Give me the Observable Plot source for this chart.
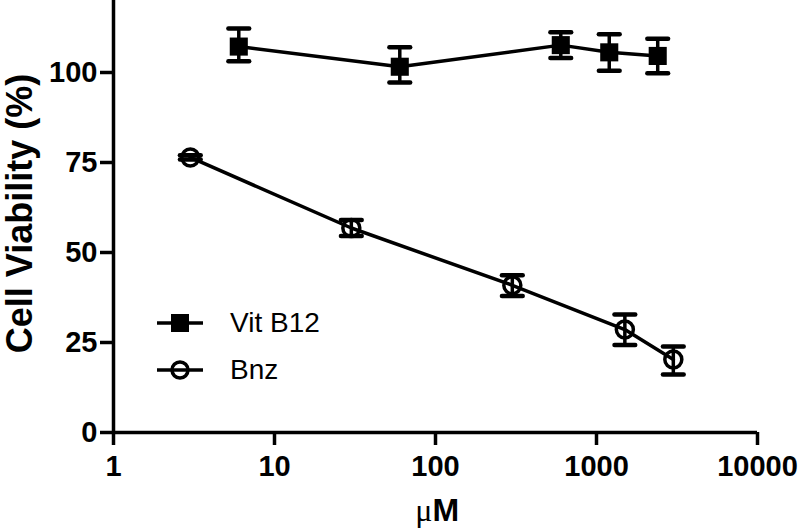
<!DOCTYPE html>
<html><head><meta charset="utf-8">
<script src="https://cdn.jsdelivr.net/npm/d3@7"></script>
<script src="https://cdn.jsdelivr.net/npm/@observablehq/plot@0.6"></script>
<style>
body{margin:0;background:#fff;}
#wrap{position:relative;width:800px;height:528px;overflow:hidden;}
#legend{position:absolute;left:157px;top:308px;font-family:"Liberation Sans",Arial,sans-serif;font-size:28px;color:#000;}
.lrow{display:flex;align-items:center;height:30px;line-height:30px;margin-bottom:17px;}
.lrow svg{margin-right:27px;}
</style></head><body><div id="wrap"></div>
<script>
// ---- data ----
const seriesNames = ["Vit B12", "Bnz"];
const vitConc = [6, 60, 600, 1200, 2400];
const vitMean = [107.2, 101.6, 107.6, 105.6, 104.6];
const vitLow  = [103.1, 97.2, 104.0, 100.5, 99.8];
const vitHigh = [112.2, 107.0, 111.2, 110.6, 109.4];
const bnzConc = [3, 30, 300, 1500, 3000];
const bnzMean = [76.4, 56.8, 40.9, 28.6, 20.3];
const bnzLow  = [75.8, 54.6, 37.9, 24.3, 16.1];
const bnzHigh = [77.0, 59.0, 43.7, 32.8, 23.9];
const xTicks = [1, 10, 100, 1000, 10000];
const yTicks = [0, 25, 50, 75, 100];
const xLabelMu = "μ";
const xLabelM = "M";
const yLabel = "Cell Viability (%)";

const vitRows = vitConc.map((c, i) => ({series: seriesNames[0], conc: c, mean: vitMean[i], low: vitLow[i], high: vitHigh[i]}));
const bnzRows = bnzConc.map((c, i) => ({series: seriesNames[1], conc: c, mean: bnzMean[i], low: bnzLow[i], high: bnzHigh[i]}));
const rows = vitRows.concat(bnzRows);
const capK = 1.16; // cap half-width as a multiplicative factor on the log axis
const font = '"Liberation Sans", Arial, Helvetica, sans-serif';
const lw = 3.5;

const chart = Plot.plot({
  width: 800, height: 528,
  marginLeft: 113, marginRight: 43, marginTop: 0, marginBottom: 96,
  style: {fontFamily: font, background: "white", color: "black", overflow: "visible"},
  x: {type: "log", domain: [1, 10000]},
  y: {domain: [0, 120]},
  marks: [
    Plot.axisX(xTicks, {tickSize: 13, tickPadding: 10, fontSize: 29, fontWeight: "bold", strokeWidth: lw, tickFormat: d => String(d), label: null}),
    Plot.axisY(yTicks, {tickSize: 13, tickPadding: 3, fontSize: 29, fontWeight: "bold", strokeWidth: lw, tickFormat: d => String(d), label: null}),
    Plot.ruleY([0], {strokeWidth: lw}),
    Plot.ruleX([1], {strokeWidth: lw}),
    Plot.ruleX(rows, {x: "conc", y1: "low", y2: "high", strokeWidth: lw}),
    Plot.link(rows, {x1: d => d.conc / capK, x2: d => d.conc * capK, y1: "high", y2: "high", strokeWidth: 4.5, strokeLinecap: "round"}),
    Plot.link(rows, {x1: d => d.conc / capK, x2: d => d.conc * capK, y1: "low", y2: "low", strokeWidth: 4.5, strokeLinecap: "round"}),
    Plot.line(rows, {x: "conc", y: "mean", z: "series", stroke: "black", strokeWidth: lw}),
    Plot.dot(vitRows, {x: "conc", y: "mean", symbol: "square", r: 10.2, fill: "black", stroke: "none"}),
    Plot.dot(bnzRows, {x: "conc", y: "mean", symbol: "circle", r: 8.5, fill: "none", stroke: "black", strokeWidth: lw}),
    Plot.text([yLabel], {text: d => d, frameAnchor: "left", dx: -82, dy: -3, rotate: -90, lineAnchor: "bottom", textAnchor: "middle", fontSize: 36, fontWeight: "bold"}),
    Plot.text([xLabelMu], {text: d => d, frameAnchor: "bottom", dx: -3, dy: 88, lineAnchor: "bottom", textAnchor: "end", fontSize: 32, fontFamily: '"Liberation Serif", "Times New Roman", serif'}),
    Plot.text([xLabelM], {text: d => d, frameAnchor: "bottom", dx: -3, dy: 88, lineAnchor: "bottom", textAnchor: "start", fontSize: 32, fontWeight: "bold"})
  ]
});
const wrap = document.getElementById("wrap");
wrap.appendChild(chart);

// legend overlay
const legend = document.createElement("div");
legend.id = "legend";
const ns = "http://www.w3.org/2000/svg";
seriesNames.forEach((name, i) => {
  const row = document.createElement("div");
  row.className = "lrow";
  const s = document.createElementNS(ns, "svg");
  s.setAttribute("width", 46); s.setAttribute("height", 30);
  const ln = document.createElementNS(ns, "line");
  ln.setAttribute("x1", 0); ln.setAttribute("x2", 46); ln.setAttribute("y1", 15); ln.setAttribute("y2", 15);
  ln.setAttribute("stroke", "black"); ln.setAttribute("stroke-width", lw);
  s.appendChild(ln);
  if (i === 0) {
    const r = document.createElementNS(ns, "rect");
    r.setAttribute("x", 14); r.setAttribute("y", 6); r.setAttribute("width", 18); r.setAttribute("height", 18);
    r.setAttribute("fill", "black");
    s.appendChild(r);
  } else {
    const c = document.createElementNS(ns, "circle");
    c.setAttribute("cx", 23); c.setAttribute("cy", 15); c.setAttribute("r", 8);
    c.setAttribute("fill", "none"); c.setAttribute("stroke", "black"); c.setAttribute("stroke-width", lw);
    s.appendChild(c);
  }
  row.appendChild(s);
  const t = document.createElement("span");
  t.textContent = name;
  row.appendChild(t);
  legend.appendChild(row);
});
wrap.appendChild(legend);
</script></body></html>
